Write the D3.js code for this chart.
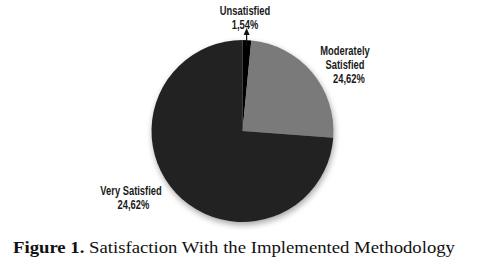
<!DOCTYPE html>
<html><head><meta charset="utf-8">
<script src="https://cdn.jsdelivr.net/npm/d3@7"></script>
<style>
html,body{margin:0;padding:0;background:#fff;}
.lbl{font-family:"Liberation Sans","Arial",sans-serif;font-weight:bold;font-size:12px;fill:#1a1a1a;}
.cap{font-family:"Liberation Serif","Times New Roman",serif;font-size:17px;fill:#111;}
</style></head>
<body>
<svg id="c" width="477" height="266"></svg>
<script>
const categories = ["Unsatisfied", "Moderately Satisfied", "Very Satisfied"];
const values = [1.54, 24.62, 73.84];
const labelTexts = [["Unsatisfied", "1,54%"], ["Moderately", "Satisfied", "24,62%"], ["Very Satisfied", "24,62%"]];
const colors = ["#050505", "#7a7a7a", "#232323"];
const caption = ["Figure 1.", " Satisfaction With the Implemented Methodology"];

const svg = d3.select("#c");
const cx = 242.5, cy = 131, r = 91;

const defs = svg.append("defs");
const f = defs.append("filter").attr("id","sh").attr("x","-20%").attr("y","-20%").attr("width","140%").attr("height","150%");
f.append("feGaussianBlur").attr("in","SourceAlpha").attr("stdDeviation",3);
f.append("feOffset").attr("dx",1).attr("dy",3).attr("result","b");
f.append("feComponentTransfer").append("feFuncA").attr("type","linear").attr("slope",0.35);
const m = f.append("feMerge"); m.append("feMergeNode"); m.append("feMergeNode").attr("in","SourceGraphic");

const pie = d3.pie().sort(null).value(d => d)(values);
const arc = d3.arc().innerRadius(0).outerRadius(r);
const g = svg.append("g").attr("transform", `translate(${cx},${cy})`).attr("filter","url(#sh)");
g.selectAll("path").data(pie).join("path").attr("d", arc).attr("fill", (d,i) => colors[i]);

// labels (condensed via horizontal scale)
const lblPos = [[245, 15], [345, 55], [131, 195]];
labelTexts.forEach((lines, i) => {
  const t = svg.append("text").attr("class","lbl").attr("text-anchor","middle")
    .attr("transform", `translate(${lblPos[i][0]},${lblPos[i][1]}) scale(0.78,1)`);
  lines.forEach((s, j) => t.append("tspan").attr("x", ((i===1 && j===2) ? 5 : 0) + ((i===2 && j===1) ? 3 : 0)).attr("y", j*14).text(s));
});

// arrow for Unsatisfied
const midA = (pie[0].startAngle + pie[0].endAngle)/2;
const ax = cx + Math.sin(midA)*(r-6), ay = cy - Math.cos(midA)*(r-6);
svg.append("line").attr("x1", ax).attr("y1", ay).attr("x2", ax).attr("y2", 34).attr("stroke","#111").attr("stroke-width",1.2);
svg.append("path").attr("d", `M${ax-3},${35}L${ax},${28}L${ax+3},${35}Z`).attr("fill","#111");

// caption
const ct = svg.append("text").attr("class","cap").attr("x", 13).attr("y", 253);
ct.append("tspan").attr("font-weight","bold").text(caption[0]);
ct.append("tspan").text(caption[1]);
ct.attr("textLength", 442).attr("lengthAdjust","spacingAndGlyphs");
</script>
</body></html>
